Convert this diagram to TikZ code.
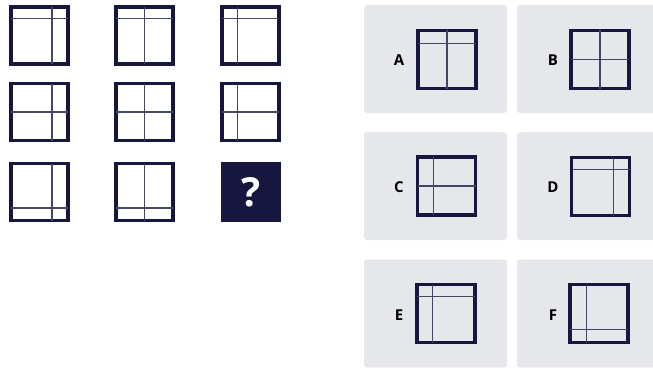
\documentclass[tikz,border=0pt]{standalone}
\usepackage{fontspec}
\setmainfont{Open Sans}
\usetikzlibrary{calc}

\definecolor{navy}{HTML}{16163F}
\definecolor{panelgray}{HTML}{E6E7EB}

% inner bars of a window, as a fraction of its side
\newcommand{\rowbar}[2]{\draw[bar] ($(#1.north west)!#2!(#1.south west)$) -- ($(#1.north east)!#2!(#1.south east)$);}
\newcommand{\colbar}[2]{\draw[bar] ($(#1.north west)!#2!(#1.north east)$) -- ($(#1.south west)!#2!(#1.south east)$);}

\begin{document}
\begin{tikzpicture}[
    x=1pt, y=-1pt,
    window/.style={rectangle, draw=navy, line width=3.6pt, minimum size=57pt, inner sep=0pt, outer sep=0pt},
    bar/.style={draw=navy!80, line width=1.1pt},
    panel/.style={rectangle, fill=panelgray, rounded corners=3pt, minimum width=143pt, minimum height=108pt, inner sep=0pt},
    letter/.style={font=\fontsize{15}{15}\selectfont\bfseries, text=black},
    mystery/.style={rectangle, fill=navy, minimum size=60pt, inner sep=0pt, text=white, font=\fontsize{40}{40}\selectfont\bfseries}
]
\useasboundingbox (0,0) rectangle (653,369);
\clip (0,0) rectangle (653,369);

% Puzzle grid
\node[window] (w11) at (39.5,35.5) {};
\node[window] (w12) at (144.5,35.5) {};
\node[window] (w13) at (250.5,35.5) {};
\node[window] (w21) at (39.5,112) {};
\node[window] (w22) at (144.5,112) {};
\node[window] (w23) at (250.5,112) {};
\node[window] (w31) at (39.5,192) {};
\node[window] (w32) at (144.5,192) {};
\node[mystery] (q) at (251,192) {?};

\rowbar{w11}{0.2} \colbar{w11}{0.72}
\rowbar{w12}{0.2} \colbar{w12}{0.5}
\rowbar{w13}{0.2} \colbar{w13}{0.27}
\rowbar{w21}{0.5} \colbar{w21}{0.72}
\rowbar{w22}{0.5} \colbar{w22}{0.5}
\rowbar{w23}{0.5} \colbar{w23}{0.27}
\rowbar{w31}{0.78} \colbar{w31}{0.72}
\rowbar{w32}{0.78} \colbar{w32}{0.5}

% Answer panels
\node[panel] (pa) at (435.5,59) {};
\node[panel] (pb) at (588.5,59) {};
\node[panel] (pc) at (435.5,186) {};
\node[panel] (pd) at (588.5,186) {};
\node[panel] (pe) at (435.5,313.5) {};
\node[panel] (pf) at (588.5,313.5) {};

\node[letter] (la) at (399,60) {A};
\node[letter] (lb) at (553,60) {B};
\node[letter] (lc) at (399,187) {C};
\node[letter] (ld) at (553,187) {D};
\node[letter] (le) at (399,315) {E};
\node[letter] (lf) at (553,315) {F};

\node[window, minimum size=58pt] (a) at (447,59.5) {};
\node[window, minimum size=58pt] (b) at (600,59.5) {};
\node[window, minimum size=58pt] (c) at (446.5,186) {};
\node[window, minimum size=58pt] (d) at (600.5,186.5) {};
\node[window, minimum size=58pt] (e) at (446,313.5) {};
\node[window, minimum size=58pt] (f) at (599,313.5) {};

\rowbar{a}{0.22} \colbar{a}{0.5}
\rowbar{b}{0.5} \colbar{b}{0.5}
\rowbar{c}{0.5} \colbar{c}{0.27}
\rowbar{d}{0.2} \colbar{d}{0.72}
\rowbar{e}{0.2} \colbar{e}{0.27}
\rowbar{f}{0.77} \colbar{f}{0.28}

\end{tikzpicture}
\end{document}
